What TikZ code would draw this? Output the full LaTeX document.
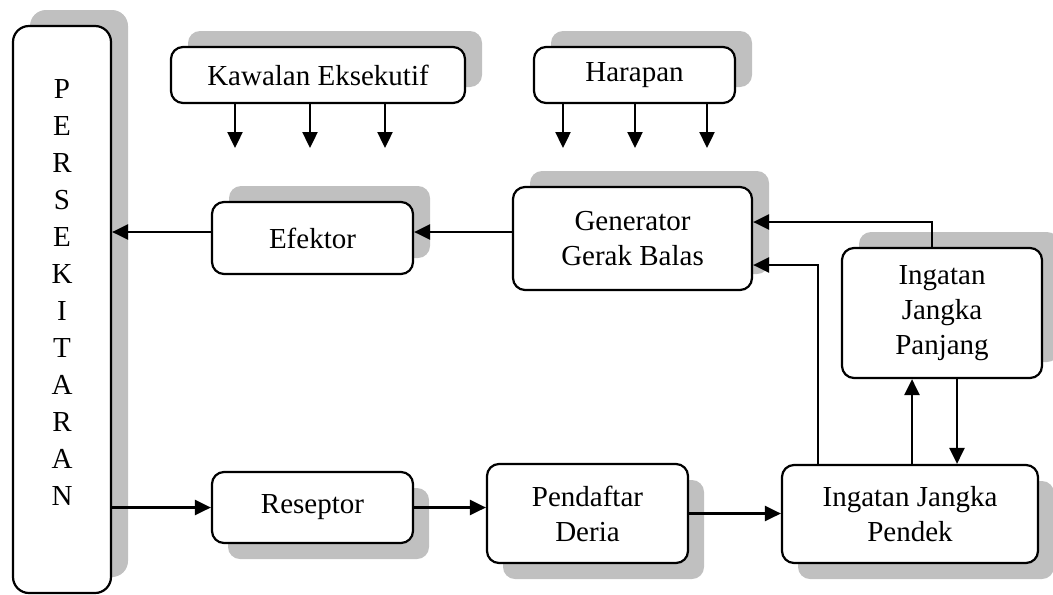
\documentclass[tikz,border=0pt]{standalone}
\usepackage{fontspec}
\setmainfont{Liberation Serif}
\usetikzlibrary{shadows}
\usetikzlibrary{arrows.meta}
\usetikzlibrary{calc}

\definecolor{bayang}{RGB}{192,192,192}

\tikzset{
  blok/.style={draw, line width=1.1pt, rounded corners=6pt, fill=white, align=center,
    inner sep=0pt, font=\fontsize{14.5}{17.5}\selectfont},
  bayangatas/.style={drop shadow={shadow xshift=8.5pt, shadow yshift=8pt, fill=bayang, opacity=1}},
  bayangbawah/.style={drop shadow={shadow xshift=8pt, shadow yshift=-8pt, fill=bayang, opacity=1}},
  panah/.style={line width=1.2pt, -{Triangle[length=8pt,width=7.5pt]}}
}

\begin{document}
\begin{tikzpicture}[x=0.5pt,y=-0.5pt]

	\useasboundingbox (0,0) rectangle (1053,594);

	% persekitaran
	\node[blok, bayangatas, rounded corners=8pt, minimum width=49pt, minimum height=283.5pt] (pers) at (62,309.5) {};
	\node[align=center, font=\fontsize{14.5}{18.5}\selectfont] (perstxt) at (62,292.5)
		{P\\E\\R\\S\\E\\K\\I\\T\\A\\R\\A\\N};

	% kotak atas
	\node[blok, bayangatas, minimum width=147pt, minimum height=28pt] (kaw) at (318,75) {Kawalan Eksekutif};
	\node[blok, bayangatas, minimum width=100.5pt, minimum height=28pt] (har) at (634.5,75) {Harapan};
	\node[blok, bayangatas, minimum width=100.5pt, minimum height=36pt] (efk) at (312.5,238) {Efektor};
	\node[blok, bayangatas, minimum width=119.5pt, minimum height=51.5pt] (gen) at (632.5,238.5) {Generator\\Gerak Balas};
	\node[blok, bayangatas, minimum width=100pt, minimum height=65pt] (ijp) at (942,313) {Ingatan\\Jangka\\Panjang};

	% kotak bawah
	\node[blok, bayangbawah, minimum width=100.5pt, minimum height=35.5pt] (res) at (312.5,507.5) {Reseptor};
	\node[blok, bayangbawah, minimum width=100.5pt, minimum height=49.5pt] (pdd) at (587.5,513.5) {Pendaftar\\Deria};
	\node[blok, bayangbawah, minimum width=128pt, minimum height=49pt] (ijs) at (910,514) {Ingatan Jangka\\Pendek};

	% anak panah ke bawah
	\foreach \i/\x in {1/235,2/310,3/385} {
		\coordinate (k\i) at (\x,148);
		\draw[panah] (kaw.south -| k\i) -- (k\i);
	}
	\foreach \i/\x in {1/563,2/635,3/707} {
		\coordinate (h\i) at (\x,148);
		\draw[panah] (har.south -| h\i) -- (h\i);
	}

	% gerak balas
	\draw[panah] ([yshift=3pt]efk.west) -- ([yshift=3pt]efk.west -| pers.east);
	\draw[panah] ([yshift=3pt]efk.east -| gen.west) -- ([yshift=3pt]efk.east);
	\draw[panah] ([xshift=-5pt]ijp.north) |- ([yshift=8.25pt]gen.east);
	\draw[panah] ([xshift=-46pt]ijs.north) |- ([yshift=-13.25pt]gen.east);

	% ingatan
	\draw[panah] ([xshift=-15pt]ijp.south |- ijs.north) -- ([xshift=-15pt]ijp.south);
	\draw[panah] ([xshift=7.5pt]ijp.south) -- ([xshift=7.5pt]ijp.south |- ijs.north);

	% input
	\draw[panah] (pers.east |- res.west) -- (res.west);
	\draw[panah] (res.east) -- (res.east -| pdd.west);
	\draw[panah] (pdd.east) -- (pdd.east -| ijs.west);

\end{tikzpicture}
\end{document}
